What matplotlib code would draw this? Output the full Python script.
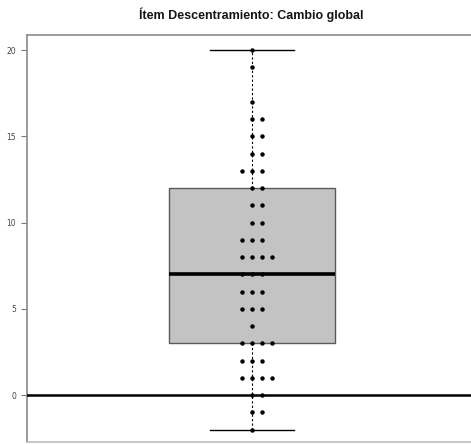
import numpy as np
import matplotlib.pyplot as plt

# puntuaciones de cambio y cuántos casos hay en cada una
valores = [20, 19, 18, 17, 16, 15, 14, 13, 12, 11, 10, 9, 8, 7, 6, 5, 4, 3, 2, 1, 0, -1, -2]
frecuencias = [1, 1, 0, 1, 2, 2, 2, 3, 2, 2, 2, 3, 4, 3, 3, 3, 1, 4, 3, 4, 2, 2, 1]
y_ticks = [0, 5, 10, 15, 20]
titulo = "Ítem Descentramiento: Cambio global"

cambio = np.repeat(valores, frecuencias)

W, H = 471, 444
fig = plt.figure(figsize=(W / 100, H / 100), dpi=100)
ax = fig.add_axes([27 / W, (H - 442) / H, (477 - 27) / W, (442 - 35) / H])

ax.boxplot(cambio, positions=[1], widths=0.8, capwidths=0.4,
           patch_artist=True, showfliers=False, whis=1.5,
           boxprops=dict(facecolor="#c3c3c3", edgecolor="#5a5a5a", linewidth=1.0),
           medianprops=dict(color="black", linewidth=2.6, zorder=3),
           whiskerprops=dict(color="black", linewidth=0.8, linestyle=(0, (2, 2))),
           capprops=dict(color="black", linewidth=1.0),
           zorder=2)

# puntos apilados por valor (tipo stripchart method="stack")
paso = 0.048
for v, n in zip(valores, frecuencias):
    if n == 0:
        continue
    desp = np.arange(n) - (n - 1) // 2
    ax.plot(1 + desp * paso, np.full(n, v), "o", color="black",
            markersize=3.2, markeredgewidth=0, zorder=2.5)

ax.axhline(0, color="black", linewidth=1.8, zorder=3)

ax.set_xlim(1 - 1.084, 1 + 1.084)
ax.set_ylim(-2.72, 20.87)
ax.set_xticks([])
ax.set_yticks(y_ticks)
ax.set_yticklabels([str(t) for t in y_ticks])
ax.tick_params(axis="y", length=4, width=0.8, color="#777777",
               labelsize=5.5, labelcolor="#444444", pad=4)

for s in ["left", "top", "bottom", "right"]:
    ax.spines[s].set_color("#8a8a8a")
    ax.spines[s].set_linewidth(1.2)
ax.spines["bottom"].set_color("#bdbdbd")

fig.text(251 / W, 1 - 15 / H, titulo, ha="center", va="center",
         fontsize=9, fontweight="bold", family="Liberation Sans", color="#151515")

fig.savefig("out.png", dpi=100)
